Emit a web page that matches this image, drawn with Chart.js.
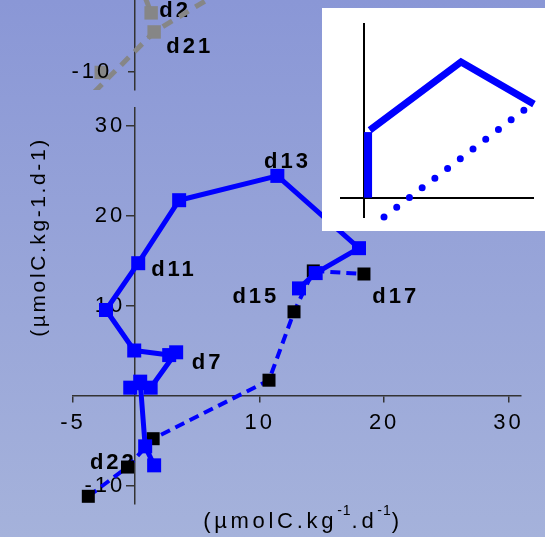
<!DOCTYPE html>
<html>
<head>
<meta charset="utf-8">
<script src="https://cdn.jsdelivr.net/npm/chart.js@4"></script>
<style>
  html, body { margin: 0; padding: 0; }
  body {
    width: 545px; height: 537px; overflow: hidden;
    background: linear-gradient(#8a97d6, #a5b2db);
  }
  #wrap { position: relative; width: 545px; height: 537px; }
  canvas { position: absolute; }
  #main { left: 0; top: 0; }
  #upper { left: 0; top: 0; }
  #inset { left: 322px; top: 8px; background: #fff; }
</style>
</head>
<body>
<div id="wrap">
  <canvas id="main" width="545" height="537"></canvas>
  <canvas id="upper" width="545" height="92"></canvas>
  <canvas id="inset" width="223" height="223"></canvas>
</div>
<script>
// ---- Main panel: net flux trajectory (µmolC.kg-1.d-1) ----
// solid branch, blue squares
const solidX = [13.16, 14.5, 17.98, 11.42, 3.53, 0.24, -2.35, -0.08, 2.73, 3.29, 1.24, -0.4, 0.4, 0.8, 1.52];
const solidY = [11.9, 13.6, 16.37, 24.4, 21.7, 14.7, 9.5, 5.0, 4.49, 4.8, 0.87, 0.87, 1.54, -5.65, -7.76];
// dashed branch, black squares
const dashX = [-3.77, -0.62, 1.44, 10.75, 12.76, 14.31, 18.38];
const dashY = [-11.2, -7.95, -4.8, 1.7, 9.3, 13.84, 13.5];
// day labels and their anchor (data units)
const dayNames = ['d13', 'd11', 'd7', 'd15', 'd17', 'd22'];
const dayX = [10.35, 1.28, 4.55, 7.81, 19.05, -3.64];
const dayY = [25.28, 13.32, 3.0, 10.24, 10.24, -8.2];
// axis ticks
const xTicks = [-5, 10, 20, 30];
const yTicks = [-10, 10, 20, 30];

// ---- Upper panel (grey series) ----
const greySolidX = [1.28, 0.56];
const greySolidY = [-3.43, -0.87];
const greyDashX = [-3.29, 1.52, 6.9];
const greyDashY = [-12.23, -5.55, -1.04];
const greyLoneX = [-2.73];
const greyLoneY = [-10.05];
const upperNames = ['d2', 'd21'];
const upperX = [1.93, 2.49];
const upperY = [-3.84, -7.92];
const upperYTicks = [-10];

// ---- Inset sketch ----
const barX = [0.21, 0.21];
const barY = [0, 3.4];
const roofX = [0.3, 5.05, 8.85];
const roofY = [3.5, 7.03, 4.85];
const dotsX = [1.04, 8.33];
const dotsY = [-1.0, 4.54];

const BLUE = '#0000ff';
const GREY = '#868686';
const AXIS = '#333333';
const FAMILY = '"Liberation Sans", Arial, Helvetica, sans-serif';

const pts = (xs, ys) => xs.map((x, i) => ({ x, y: ys[i] }));

const spacing = {
  id: 'spacing',
  beforeDraw(chart) { chart.ctx.letterSpacing = '3px'; }
};

function labelPlugin(names, xs, ys) {
  return {
    id: 'dayLabels',
    beforeDatasetsDraw(chart) {
      const { ctx, scales } = chart;
      ctx.save();
      ctx.letterSpacing = '3px';
      ctx.font = 'bold 22px ' + FAMILY;
      ctx.fillStyle = '#000';
      ctx.textAlign = 'left';
      ctx.textBaseline = 'alphabetic';
      names.forEach((n, i) => {
        ctx.fillText(n, scales.x.getPixelForValue(xs[i]), scales.y.getPixelForValue(ys[i]));
      });
      ctx.restore();
    }
  };
}

// y tick labels, right-aligned a fixed distance left of the vertical axis
function yLabelPlugin(offset, onTop) {
  const draw = chart => {
    const { ctx, scales } = chart;
    const axisX = scales.x.getPixelForValue(0);
    ctx.save();
    ctx.letterSpacing = '3px';
    ctx.font = '22px ' + FAMILY;
    ctx.fillStyle = '#000';
    ctx.textAlign = 'right';
    ctx.textBaseline = 'middle';
    scales.y.ticks.forEach(t => {
      ctx.fillText(String(t.value), axisX - offset, scales.y.getPixelForValue(t.value));
    });
    ctx.restore();
  };
  return onTop ? { id: 'yLabels', afterDatasetsDraw: draw } : { id: 'yLabels', beforeDatasetsDraw: draw };
}

const axisTitles = {
  id: 'axisTitles',
  beforeDatasetsDraw(chart) {
    const ctx = chart.ctx;
    ctx.save();
    ctx.fillStyle = '#000';
    ctx.letterSpacing = '2.6px';
    // vertical title
    ctx.font = '21px ' + FAMILY;
    ctx.translate(39, 237);
    ctx.rotate(-Math.PI / 2);
    ctx.textAlign = 'center';
    ctx.textBaseline = 'middle';
    ctx.fillText('(µmolC.kg-1.d-1)', 0, 0);
    ctx.restore();

    // horizontal title with superscripts
    ctx.save();
    ctx.fillStyle = '#000';
    ctx.textAlign = 'left';
    ctx.textBaseline = 'alphabetic';
    const parts = [['(µmolC.kg', false], ['-1', true], ['.d', false], ['-1', true], [')', false]];
    const setFont = sup => {
      ctx.font = (sup ? '14px ' : '22px ') + FAMILY;
      ctx.letterSpacing = sup ? '1px' : '3.7px';
    };
    let total = 0;
    parts.forEach(([t, sup]) => { setFont(sup); total += ctx.measureText(t).width; });
    let x = 303 - total / 2;
    const base = 528;
    parts.forEach(([t, sup]) => {
      setFont(sup);
      ctx.fillText(t, x, sup ? base - 13 : base);
      x += ctx.measureText(t).width;
    });
    ctx.restore();
  }
};

const fixedTicks = values => scale => { scale.ticks = values.map(v => ({ value: v })); };
// labels never overflow the plot edges here, so no extra edge room is wanted
const noEdgePadding = scale => { scale.paddingTop = 0; scale.paddingBottom = 0; };

function axisScale(min, max, pos, values, tickLen, pad, showLabels) {
  return {
    type: 'linear', min, max, position: pos,
    afterBuildTicks: fixedTicks(values),
    afterFit: noEdgePadding,
    grid: { drawOnChartArea: false, drawTicks: true, tickLength: tickLen, color: AXIS, lineWidth: 1.5 },
    border: { color: AXIS, width: 1.5 },
    ticks: { display: showLabels, color: '#000', font: { family: FAMILY, size: 22 }, padding: pad, autoSkip: false, maxRotation: 0 }
  };
}

Chart.defaults.animation = false;
Chart.defaults.responsive = false;
Chart.defaults.plugins.legend.display = false;
Chart.defaults.plugins.tooltip.enabled = false;

new Chart(document.getElementById('main'), {
  type: 'scatter',
  data: {
    datasets: [
      {
        data: pts(solidX, solidY), showLine: true,
        borderColor: BLUE, backgroundColor: BLUE, borderWidth: 5, borderJoinStyle: 'round',
        pointStyle: 'rect', pointRadius: 9.9, pointBorderWidth: 0, clip: false
      },
      {
        data: pts(dashX, dashY), showLine: true,
        borderColor: BLUE, borderWidth: 4, borderDash: [10, 6],
        pointStyle: 'rect', pointRadius: 9.2, pointBorderWidth: 0,
        pointBackgroundColor: '#000', backgroundColor: '#000', clip: false
      }
    ]
  },
  options: {
    devicePixelRatio: 1,
    layout: { autoPadding: false, padding: { left: 73, right: 24, top: 107.5, bottom: 33.5 } },
    scales: {
      x: axisScale(-5, 31, { y: 0 }, xTicks, 6, 8, true),
      y: axisScale(-12, 32, { x: 0 }, yTicks, 8, 2, false)
    }
  },
  plugins: [spacing, yLabelPlugin(10, false), labelPlugin(dayNames, dayX, dayY), axisTitles]
});

new Chart(document.getElementById('upper'), {
  type: 'scatter',
  data: {
    datasets: [
      {
        data: pts(greySolidX, greySolidY), showLine: true,
        borderColor: GREY, backgroundColor: GREY, borderWidth: 5,
        pointStyle: 'rect', pointRadius: [9.5, 0], pointBorderWidth: 0, clip: 0
      },
      {
        data: pts(greyDashX, greyDashY), showLine: true,
        borderColor: GREY, backgroundColor: GREY, borderWidth: 5, borderDash: [11, 8],
        pointStyle: 'rect', pointRadius: [0, 9.5, 0], pointBorderWidth: 0, clip: 0
      },
      {
        data: pts(greyLoneX, greyLoneY), showLine: false,
        backgroundColor: GREY, pointStyle: 'rect', pointRadius: 9.5, pointBorderWidth: 0, clip: 0
      }
    ]
  },
  options: {
    devicePixelRatio: 1,
    layout: { autoPadding: false, padding: { left: 73, right: 24, top: 0, bottom: 2 } },
    scales: {
      x: { type: 'linear', min: -5, max: 31, display: false },
      y: axisScale(-12, -2, { x: 0 }, upperYTicks, 6, 16, false)
    }
  },
  plugins: [spacing, yLabelPlugin(23, true), labelPlugin(upperNames, upperX, upperY)]
});

new Chart(document.getElementById('inset'), {
  type: 'scatter',
  data: {
    datasets: [
      { data: pts(barX, barY), showLine: true, borderColor: BLUE, borderWidth: 8, borderCapStyle: 'butt', pointRadius: 0, clip: false },
      { data: pts(roofX, roofY), showLine: true, borderColor: BLUE, borderWidth: 7, borderJoinStyle: 'miter', pointRadius: 0, clip: false },
      { data: pts(dotsX, dotsY), showLine: true, borderColor: BLUE, borderWidth: 7, borderDash: [0, 16], borderCapStyle: 'round', pointRadius: 0, clip: false }
    ]
  },
  options: {
    devicePixelRatio: 1,
    layout: { autoPadding: false, padding: { left: 19, right: 12, top: 16, bottom: 14 } },
    scales: {
      x: { type: 'linear', min: -1.2, max: 8.8, position: { y: 0 }, ticks: { display: false }, grid: { display: false }, border: { color: '#000', width: 2 } },
      y: { type: 'linear', min: -1, max: 9, position: { x: 0 }, ticks: { display: false }, grid: { display: false }, border: { color: '#000', width: 2 } }
    }
  }
});
</script>
</body>
</html>
